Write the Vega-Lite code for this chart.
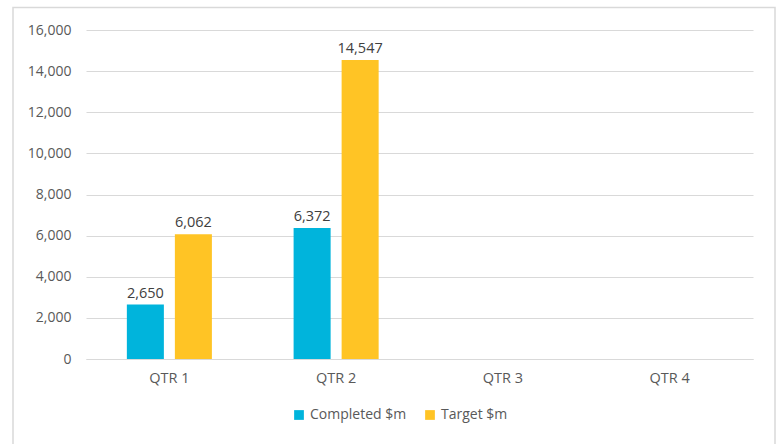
{
  "$schema": "https://vega.github.io/schema/vega-lite/v6.json",
  "width": 667,
  "height": 329,
  "autosize": {"type": "none"},
  "padding": {"left": 86, "top": 30, "right": 26, "bottom": 85},
  "background": "white",
  "config": {
    "view": {"stroke": null},
    "font": "Open Sans"
  },
  "layer": [
    {
      "data": {"values": [{"frame": 1}]},
      "mark": {"type": "rect", "fill": null, "stroke": "#d9d9d9", "strokeWidth": 1.5},
      "encoding": {
        "x": {"value": -73},
        "x2": {"value": 689},
        "y": {"value": -22.5},
        "y2": {"value": 420}
      }
    },
    {
      "data": {
        "values": [
          {"quarter": "QTR 1", "series": "Completed $m", "value": 2650},
          {"quarter": "QTR 1", "series": "Target $m", "value": 6062},
          {"quarter": "QTR 2", "series": "Completed $m", "value": 6372},
          {"quarter": "QTR 2", "series": "Target $m", "value": 14547}
        ]
      },
      "encoding": {
        "x": {
          "field": "quarter",
          "type": "nominal",
          "scale": {"domain": ["QTR 1", "QTR 2", "QTR 3", "QTR 4"], "paddingInner": 0.49, "paddingOuter": 0.245},
          "axis": {
            "title": null,
            "labelAngle": 0,
            "labelFontSize": 14.5,
            "labelColor": "#595959",
            "labelPadding": 12,
            "ticks": false,
            "domainColor": "#d9d9d9",
            "domainWidth": 1.2
          }
        },
        "xOffset": {
          "field": "series",
          "type": "nominal",
          "scale": {"paddingInner": 0.229, "paddingOuter": 0}
        },
        "y": {
          "field": "value",
          "type": "quantitative",
          "scale": {"domain": [0, 16000]},
          "axis": {
            "title": null,
            "values": [0, 2000, 4000, 6000, 8000, 10000, 12000, 14000, 16000],
            "format": ",d",
            "labelFontSize": 14,
            "labelColor": "#595959",
            "labelPadding": 15,
            "ticks": false,
            "domain": false,
            "gridColor": "#d9d9d9",
            "gridWidth": 1.2
          }
        }
      },
      "layer": [
        {
          "mark": {"type": "bar"},
          "encoding": {
            "color": {
              "field": "series",
              "type": "nominal",
              "scale": {"domain": ["Completed $m", "Target $m"], "range": ["#00B4DC", "#FFC425"]},
              "legend": {
                "title": null,
                "orient": "none",
                "legendX": 206,
                "legendY": 378,
                "direction": "horizontal",
                "symbolType": "square",
                "symbolSize": 95,
                "symbolStrokeWidth": 0,
                "labelOffset": 4,
                "labelFontSize": 14,
                "labelColor": "#595959",
                "columnPadding": 16
              }
            }
          }
        },
        {
          "mark": {"type": "text", "baseline": "bottom", "dy": -4, "fontSize": 14.5, "color": "#404040"},
          "encoding": {
            "text": {"field": "value", "type": "quantitative", "format": ",d"}
          }
        }
      ]
    }
  ]
}
